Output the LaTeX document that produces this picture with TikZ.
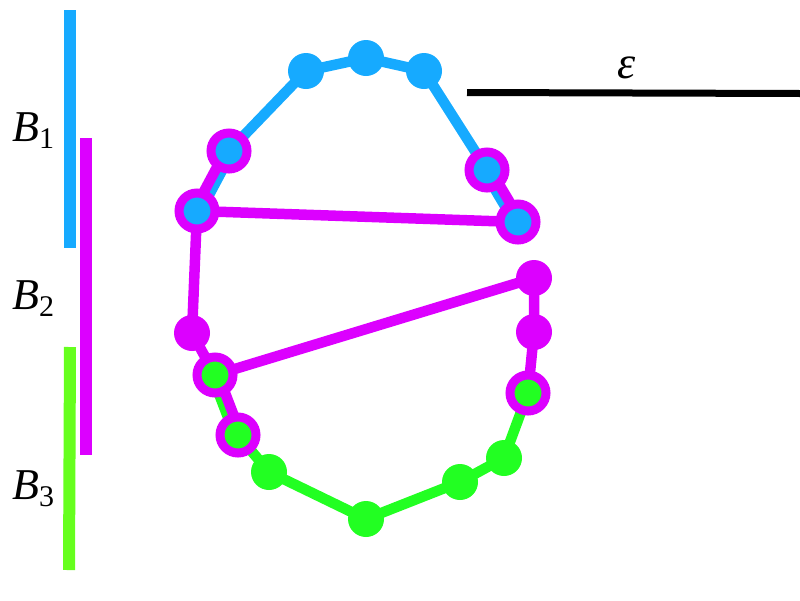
\documentclass[tikz,border=0pt]{standalone}
\usepackage{fontspec}
\setmainfont{Liberation Serif}
\usetikzlibrary{calc,backgrounds}

\definecolor{cblue}{RGB}{22,170,255}
\definecolor{cmag}{RGB}{220,0,255}
\definecolor{cgreen}{RGB}{34,255,34}
\definecolor{cbar}{RGB}{102,255,30}

\newcommand{\blockname}[1]{\fontsize{44}{44}\selectfont\textit{B}\raisebox{-7pt}{\fontsize{30}{30}\selectfont #1}}

\tikzset{
  dot/.style={circle,fill=#1,inner sep=0pt,minimum size=36pt},
  ringdot/.style={circle,fill=#1,draw=cmag,line width=9pt,inner sep=0pt,minimum size=36pt},
  link/.style={line width=10.5pt,draw=#1},
  bar/.style={line width=12pt,draw=#1},
}

\begin{document}
\begin{tikzpicture}[x=1pt,y=-1pt]
  \useasboundingbox (0,0) rectangle (800,600);

  % blocks
  \coordinate (b1top) at (70,10);
  \coordinate (b1bot) at (70,248);
  \coordinate (b2top) at (86,138);
  \coordinate (b2bot) at (86,455);
  \coordinate (b3top) at (70,347);
  \coordinate (b3bot) at (69,570);
  \draw[bar=cblue] (b1top) -- (b1bot);
  \draw[bar=cmag] (b2top) -- (b2bot);
  \draw[bar=cbar] (b3top) -- (b3bot);
  \node[anchor=base west,inner sep=0pt] (lab1) at (12,141) {\blockname{1}};
  \node[anchor=base west,inner sep=0pt] (lab2) at (12,309) {\blockname{2}};
  \node[anchor=base west,inner sep=0pt] (lab3) at (12,499) {\blockname{3}};

  % epsilon
  \coordinate (epsl) at (467,92.5);
  \coordinate (epsr) at (800,93.5);
  \draw[line width=7pt] (epsl) -- (epsr);
  \node[anchor=base,inner sep=0pt] (eps) at (627,78) {\fontsize{46}{46}\selectfont\textit{ε}};

  % points
  \node[ringdot=cblue] (b4) at (229,151) {};
  \node[ringdot=cblue] (b5) at (197,211) {};
  \node[dot=cblue] (b1) at (306,71) {};
  \node[dot=cblue] (b2) at (366,58) {};
  \node[dot=cblue] (b3) at (424,71) {};
  \node[ringdot=cblue] (b6) at (487,170) {};
  \node[ringdot=cblue] (b7) at (518,222) {};
  \node[dot=cmag] (m1) at (192,333) {};
  \node[dot=cmag] (m3) at (534,278) {};
  \node[dot=cmag] (m2) at (534,332) {};
  \node[ringdot=cgreen] (g1) at (215,375) {};
  \node[ringdot=cgreen] (g2) at (238,435) {};
  \node[dot=cgreen] (g3) at (269,472) {};
  \node[dot=cgreen] (g4) at (366,519) {};
  \node[dot=cgreen] (g5) at (460,482) {};
  \node[dot=cgreen] (g6) at (504,458) {};
  \node[ringdot=cgreen] (g7) at (528,393) {};

  \begin{scope}[on background layer]
    % blue chain
    \draw[link=cblue] ($(b4)!3pt!90:(b5)$) -- ($(b5)!3pt!-90:(b4)$);
    \draw[link=cblue] (b4.center) -- (b1.center) -- (b2.center) -- (b3.center) -- (b6.center);
    \draw[link=cblue] ($(b6)!3pt!-90:(b7)$) -- ($(b7)!3pt!90:(b6)$);
    % green chain
    \draw[link=cgreen] ($(g1)!3pt!-90:(g2)$) -- ($(g2)!3pt!90:(g1)$);
    \draw[link=cgreen] (g2.center) -- (g3.center) -- (g4.center) -- (g5.center) -- (g6.center) -- (g7.center);
    % magenta chain
    \draw[link=cmag] ($(b4)!3pt!-90:(b5)$) -- ($(b5)!3pt!90:(b4)$);
    \draw[link=cmag] ($(b6)!3pt!90:(b7)$) -- ($(b7)!3pt!-90:(b6)$);
    \draw[link=cmag] (b5.center) -- (b7.center);
    \draw[link=cmag] (b5.center) -- (m1.center) -- (g1.center);
    \draw[link=cmag] ($(g1)!3pt!90:(g2)$) -- ($(g2)!3pt!-90:(g1)$);
    \draw[link=cmag] (g1.center) -- (m3.center) -- (m2.center) -- (g7.center);
  \end{scope}
\end{tikzpicture}
\end{document}
